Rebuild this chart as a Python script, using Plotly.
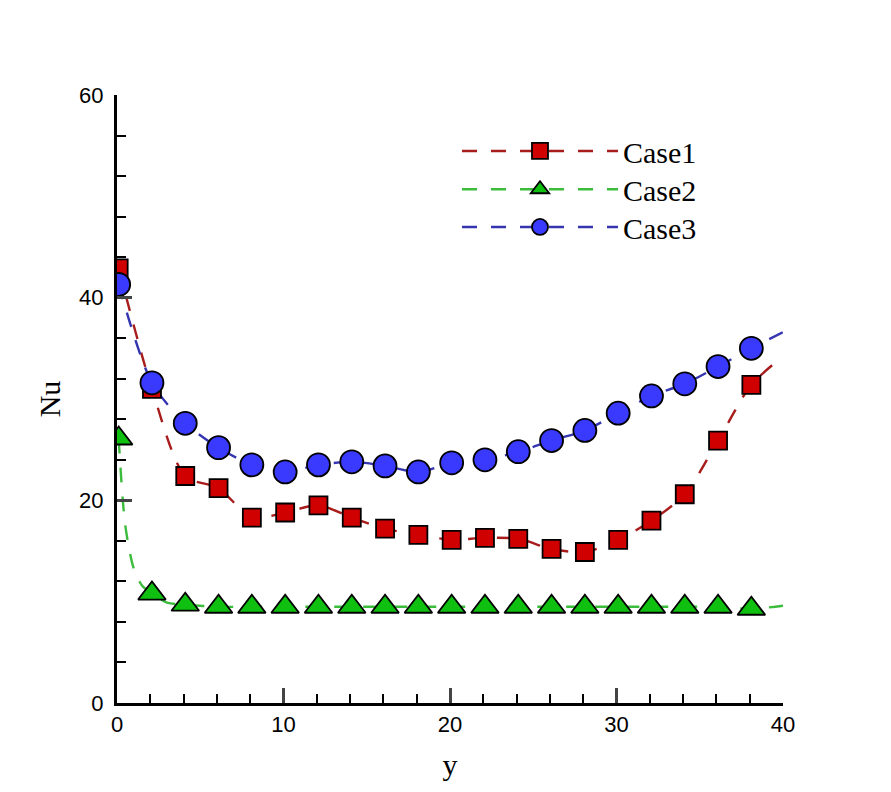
import plotly.graph_objects as go

# Marker data
x_mk = [0.1, 2.1, 4.1, 6.1, 8.1, 10.1, 12.1, 14.1, 16.1, 18.1,
        20.1, 22.1, 24.1, 26.1, 28.1, 30.1, 32.1, 34.1, 36.1, 38.1]
case1 = [42.9, 31.0, 22.4, 21.2, 18.3, 18.8, 19.5, 18.3, 17.2, 16.6,
         16.1, 16.3, 16.2, 15.2, 14.9, 16.1, 18.0, 20.6, 25.9, 31.4]
case2 = [26.1, 10.8, 9.7, 9.5, 9.5, 9.5, 9.5, 9.5, 9.5, 9.5,
         9.5, 9.5, 9.5, 9.5, 9.5, 9.5, 9.5, 9.5, 9.5, 9.3]
case3 = [41.3, 31.6, 27.6, 25.2, 23.5, 22.8, 23.5, 23.8, 23.4, 22.8,
         23.7, 24.0, 24.8, 25.9, 26.9, 28.6, 30.3, 31.5, 33.2, 35.0]

# Curve data (dashed lines)
x_c1 = x_mk + [40.0]
c1 = case1 + [34.2]
x_c2 = [0.1, 0.5, 1.0, 1.5, 2.1, 3.0] + x_mk[2:] + [40.0]
c2 = [26.1, 17.5, 13.3, 11.6, 10.8, 9.9] + case2[2:] + [9.6]
x_c3 = x_mk + [40.0]
c3 = case3 + [36.6]

x_ticks = [0, 10, 20, 30, 40]
y_ticks = [0, 20, 40, 60]

series = [
    ("Case1", x_c1, c1, case1, "#a81c1c", "#d00000", "square", 18, "legend"),
    ("Case2", x_c2, c2, case2, "#3cbc3c", "#10c010", "triangle-up", 24, "legend2"),
    ("Case3", x_c3, c3, case3, "#3535b0", "#3a3aff", "circle", 23, "legend3"),
]
DASH = "15px,14px"

def gapped(vals):
    out = []
    for v in vals:
        out += [v, None]
    return out

fig = go.Figure()
for name, xc, yc, ym, lc, fc, sym, sz, lg in series:
    fig.add_trace(go.Scatter(
        x=xc, y=yc, mode="lines",
        line=dict(color=lc, width=2.4, dash=DASH, shape="spline", smoothing=0.8),
        showlegend=False, hoverinfo="skip"))
for name, xc, yc, ym, lc, fc, sym, sz, lg in series:
    fig.add_trace(go.Scatter(
        x=gapped(x_mk), y=gapped(ym), mode="markers+lines", name=name,
        connectgaps=False, legend=lg,
        line=dict(color=lc, width=2.4, dash=DASH),
        marker=dict(symbol=sym, size=sz, color=fc, line=dict(color="black", width=1.8)),
        ))

leg_font = dict(family="Liberation Serif", size=30, color="black")
def leg(y):
    return dict(x=0.5105, y=y, xanchor="left", yanchor="middle", font=leg_font,
                itemwidth=156, bgcolor="rgba(0,0,0,0)")

fig.update_layout(
    width=883, height=784,
    margin=dict(l=109, r=108, t=87, b=89),
    plot_bgcolor="white", paper_bgcolor="white",
    showlegend=True,
    legend=leg(0.908), legend2=leg(0.845), legend3=leg(0.783),
    xaxis=dict(range=[0, 40], tickvals=x_ticks, ticks="inside", ticklen=15, tickwidth=3,
               showline=True, linewidth=3, linecolor="black", showgrid=False, zeroline=False,
               minor=dict(dtick=2, ticks="inside", ticklen=9, tickwidth=1.5, tickcolor="black"),
               tickfont=dict(family="Liberation Sans", size=22, color="black"),
               title=dict(text="y", font=dict(family="Liberation Serif", size=30, color="black"), standoff=18)),
    yaxis=dict(range=[0, 60], tickvals=y_ticks, ticks="inside", ticklen=15, tickwidth=3,
               showline=True, linewidth=3, linecolor="black", showgrid=False, zeroline=False,
               minor=dict(dtick=4, ticks="inside", ticklen=9, tickwidth=1.5, tickcolor="black"),
               tickfont=dict(family="Liberation Sans", size=22, color="black"),
               ticklabelstandoff=6,
               title=dict(text="Nu", font=dict(family="Liberation Serif", size=30, color="black"), standoff=10)),
)
fig.write_html("out.html")
